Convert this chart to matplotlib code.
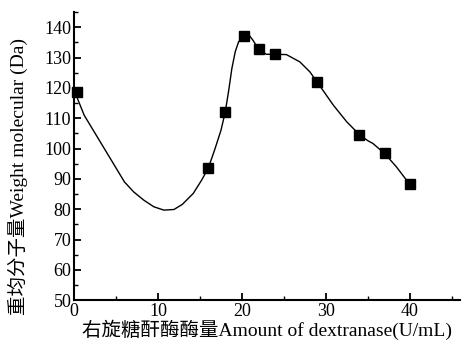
import numpy as np
import matplotlib
matplotlib.use("Agg")
import matplotlib.pyplot as plt
from matplotlib.ticker import MultipleLocator

plt.rcParams['font.family'] = ['Liberation Serif', 'Noto Sans CJK SC']

# measured points (squares)
dose = [0.3, 16, 18, 20.2, 22, 24, 29, 34, 37, 40]
mw = [118.5, 93.6, 111.9, 137.0, 132.7, 131.1, 121.8, 104.6, 98.4, 88.2]

# smooth trend line
curve_x = [0.3, 0.4, 1.2, 2.4, 3.6, 4.8, 6.0, 7.1, 8.3, 9.5, 10.7, 11.9, 12.9,
           14.2, 15.2, 16.0, 16.8, 17.5, 18.0, 18.4, 18.8, 19.2, 19.6, 20.1,
           20.6, 21.3, 22.0, 22.9, 24.0, 25.3, 26.9, 28.1, 29.0, 30.9, 32.5,
           34.0, 35.0, 35.6, 37.0, 38.4, 40.0]
curve_y = [118.5, 116.5, 111.0, 105.5, 100.0, 94.5, 89.0, 85.7, 83.0, 80.8,
           79.7, 79.9, 81.6, 85.2, 89.6, 93.6, 100.0, 106.0, 111.9, 118.7,
           126.4, 131.9, 135.2, 136.8, 138.3, 135.8, 132.7, 131.1, 131.1, 131.0,
           128.6, 125.3, 121.8, 114.3, 108.8, 104.6, 102.6, 101.7, 98.4, 94.0,
           88.2]

fig = plt.figure(figsize=(4.69, 3.47), dpi=100)
ax = fig.add_axes([0.158, 0.135, 0.823, 0.83])

ax.plot(curve_x, curve_y, color='black', lw=1.0)
ax.plot(dose, mw, 's', color='black', ms=7.3, clip_on=False)

ax.set_xlim(0, 46)
ax.set_ylim(50, 145)
ax.xaxis.set_major_locator(MultipleLocator(10))
ax.xaxis.set_minor_locator(MultipleLocator(5))
ax.yaxis.set_major_locator(MultipleLocator(10))
ax.yaxis.set_minor_locator(MultipleLocator(5))
ax.set_yticks(np.arange(50, 141, 10))

for s in ['top', 'right']:
    ax.spines[s].set_visible(False)
for s in ['left', 'bottom']:
    ax.spines[s].set_linewidth(1.5)

ax.tick_params(which='major', direction='in', length=5, width=1.3, labelsize=13, pad=2)
ax.tick_params(which='minor', direction='in', length=3, width=1.0)

ax.set_xlabel('右旋糖酐酶酶量Amount of dextranase(U/mL)', fontsize=14, labelpad=0)
ax.set_ylabel('重均分子量Weight molecular (Da)', fontsize=14, labelpad=2)
ax.yaxis.set_label_coords(-0.12, 0.43)

fig.savefig('out.png', dpi=100)
